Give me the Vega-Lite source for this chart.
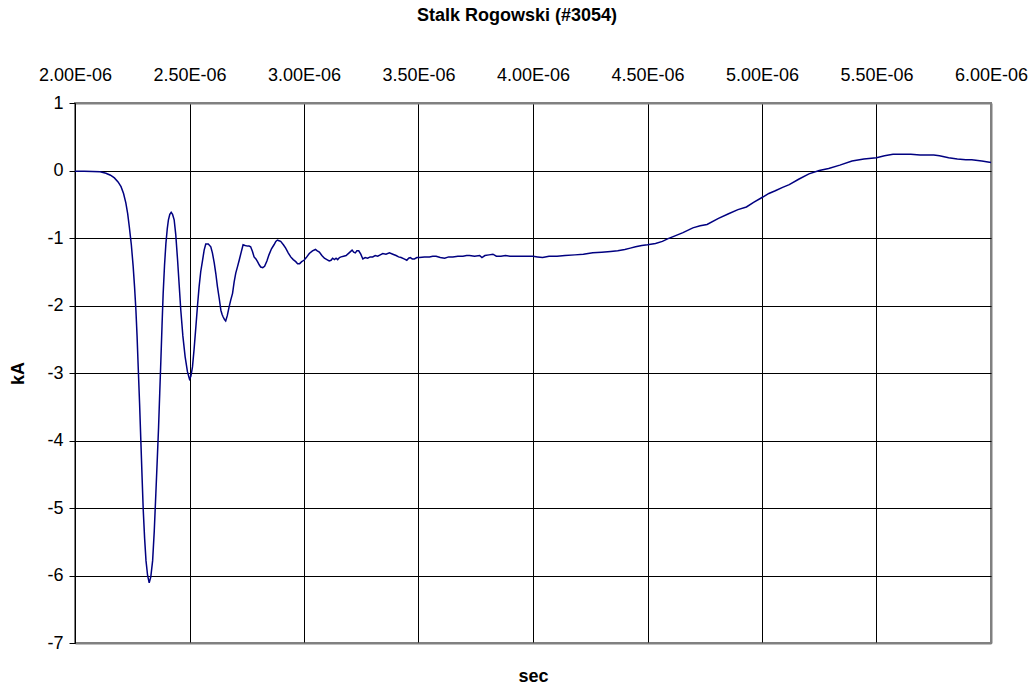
{
  "$schema": "https://vega.github.io/schema/vega-lite/v6.json",
  "width": 916,
  "height": 540,
  "autosize": "none",
  "padding": {"left": 75, "top": 103, "right": 42, "bottom": 42},
  "background": "white",
  "config": {
    "font": "Liberation Sans",
    "view": {"stroke": "#808080", "strokeWidth": 2}
  },
  "title": {
    "text": "Stalk Rogowski (#3054)",
    "fontSize": 18,
    "fontWeight": "bold",
    "color": "black",
    "anchor": "middle",
    "dx": -16,
    "offset": 41
  },
  "data": {
    "values": [
      {"t": 2.000e-6, "kA": -0.01}, {"t": 2.040e-6, "kA": -0.01}, {"t": 2.077e-6, "kA": -0.015}, {"t": 2.110e-6, "kA": -0.02},
      {"t": 2.135e-6, "kA": -0.04}, {"t": 2.155e-6, "kA": -0.07}, {"t": 2.172e-6, "kA": -0.11}, {"t": 2.188e-6, "kA": -0.17},
      {"t": 2.201e-6, "kA": -0.24}, {"t": 2.212e-6, "kA": -0.34}, {"t": 2.222e-6, "kA": -0.48}, {"t": 2.230e-6, "kA": -0.64},
      {"t": 2.237e-6, "kA": -0.83}, {"t": 2.246e-6, "kA": -1.10}, {"t": 2.254e-6, "kA": -1.42}, {"t": 2.260e-6, "kA": -1.72},
      {"t": 2.266e-6, "kA": -2.07}, {"t": 2.271e-6, "kA": -2.45}, {"t": 2.276e-6, "kA": -2.91}, {"t": 2.282e-6, "kA": -3.45},
      {"t": 2.288e-6, "kA": -4.05}, {"t": 2.293e-6, "kA": -4.55}, {"t": 2.298e-6, "kA": -5.03}, {"t": 2.304e-6, "kA": -5.45},
      {"t": 2.310e-6, "kA": -5.78}, {"t": 2.317e-6, "kA": -6.00}, {"t": 2.324e-6, "kA": -6.11}, {"t": 2.331e-6, "kA": -6.02},
      {"t": 2.339e-6, "kA": -5.78}, {"t": 2.346e-6, "kA": -5.35}, {"t": 2.353e-6, "kA": -4.79}, {"t": 2.359e-6, "kA": -4.30},
      {"t": 2.365e-6, "kA": -3.80}, {"t": 2.370e-6, "kA": -3.30}, {"t": 2.375e-6, "kA": -2.81}, {"t": 2.380e-6, "kA": -2.30},
      {"t": 2.385e-6, "kA": -1.82}, {"t": 2.391e-6, "kA": -1.40}, {"t": 2.397e-6, "kA": -1.08}, {"t": 2.403e-6, "kA": -0.86},
      {"t": 2.408e-6, "kA": -0.73}, {"t": 2.414e-6, "kA": -0.65}, {"t": 2.420e-6, "kA": -0.62}, {"t": 2.426e-6, "kA": -0.65},
      {"t": 2.433e-6, "kA": -0.73}, {"t": 2.440e-6, "kA": -0.95}, {"t": 2.448e-6, "kA": -1.33}, {"t": 2.455e-6, "kA": -1.70},
      {"t": 2.462e-6, "kA": -2.07}, {"t": 2.471e-6, "kA": -2.45}, {"t": 2.481e-6, "kA": -2.76}, {"t": 2.491e-6, "kA": -2.98},
      {"t": 2.500e-6, "kA": -3.09}, {"t": 2.506e-6, "kA": -3.05}, {"t": 2.513e-6, "kA": -2.91}, {"t": 2.520e-6, "kA": -2.65},
      {"t": 2.528e-6, "kA": -2.31}, {"t": 2.535e-6, "kA": -2.00}, {"t": 2.542e-6, "kA": -1.72}, {"t": 2.549e-6, "kA": -1.50},
      {"t": 2.557e-6, "kA": -1.33}, {"t": 2.564e-6, "kA": -1.18}, {"t": 2.571e-6, "kA": -1.09}, {"t": 2.582e-6, "kA": -1.09},
      {"t": 2.593e-6, "kA": -1.13}, {"t": 2.600e-6, "kA": -1.22}, {"t": 2.608e-6, "kA": -1.37}, {"t": 2.615e-6, "kA": -1.53},
      {"t": 2.622e-6, "kA": -1.72}, {"t": 2.630e-6, "kA": -1.90}, {"t": 2.637e-6, "kA": -2.07}, {"t": 2.642e-6, "kA": -2.13},
      {"t": 2.647e-6, "kA": -2.17}, {"t": 2.653e-6, "kA": -2.21}, {"t": 2.658e-6, "kA": -2.23}, {"t": 2.665e-6, "kA": -2.15},
      {"t": 2.673e-6, "kA": -2.02}, {"t": 2.680e-6, "kA": -1.92}, {"t": 2.688e-6, "kA": -1.82}, {"t": 2.695e-6, "kA": -1.65},
      {"t": 2.702e-6, "kA": -1.52}, {"t": 2.710e-6, "kA": -1.42}, {"t": 2.717e-6, "kA": -1.33}, {"t": 2.725e-6, "kA": -1.22},
      {"t": 2.734e-6, "kA": -1.10}, {"t": 2.743e-6, "kA": -1.11}, {"t": 2.753e-6, "kA": -1.12}, {"t": 2.760e-6, "kA": -1.12},
      {"t": 2.767e-6, "kA": -1.13}, {"t": 2.775e-6, "kA": -1.20}, {"t": 2.782e-6, "kA": -1.28}, {"t": 2.790e-6, "kA": -1.31},
      {"t": 2.797e-6, "kA": -1.35}, {"t": 2.805e-6, "kA": -1.40}, {"t": 2.811e-6, "kA": -1.43}, {"t": 2.820e-6, "kA": -1.44},
      {"t": 2.828e-6, "kA": -1.42}, {"t": 2.838e-6, "kA": -1.34}, {"t": 2.847e-6, "kA": -1.25}, {"t": 2.858e-6, "kA": -1.16},
      {"t": 2.869e-6, "kA": -1.10}, {"t": 2.877e-6, "kA": -1.05}, {"t": 2.884e-6, "kA": -1.03}, {"t": 2.891e-6, "kA": -1.04},
      {"t": 2.898e-6, "kA": -1.05}, {"t": 2.910e-6, "kA": -1.10}, {"t": 2.920e-6, "kA": -1.15}, {"t": 2.931e-6, "kA": -1.22},
      {"t": 2.942e-6, "kA": -1.28}, {"t": 2.953e-6, "kA": -1.32}, {"t": 2.964e-6, "kA": -1.35}, {"t": 2.972e-6, "kA": -1.38},
      {"t": 2.981e-6, "kA": -1.38}, {"t": 2.990e-6, "kA": -1.35}, {"t": 3.000e-6, "kA": -1.33}, {"t": 3.010e-6, "kA": -1.29},
      {"t": 3.023e-6, "kA": -1.23}, {"t": 3.037e-6, "kA": -1.19}, {"t": 3.050e-6, "kA": -1.17}, {"t": 3.058e-6, "kA": -1.19},
      {"t": 3.067e-6, "kA": -1.21}, {"t": 3.078e-6, "kA": -1.26}, {"t": 3.089e-6, "kA": -1.30}, {"t": 3.100e-6, "kA": -1.32},
      {"t": 3.110e-6, "kA": -1.34}, {"t": 3.118e-6, "kA": -1.33}, {"t": 3.125e-6, "kA": -1.30}, {"t": 3.133e-6, "kA": -1.32},
      {"t": 3.140e-6, "kA": -1.30}, {"t": 3.147e-6, "kA": -1.32}, {"t": 3.155e-6, "kA": -1.29}, {"t": 3.162e-6, "kA": -1.28},
      {"t": 3.173e-6, "kA": -1.27}, {"t": 3.184e-6, "kA": -1.26}, {"t": 3.197e-6, "kA": -1.22}, {"t": 3.210e-6, "kA": -1.18},
      {"t": 3.217e-6, "kA": -1.21}, {"t": 3.224e-6, "kA": -1.22}, {"t": 3.231e-6, "kA": -1.19}, {"t": 3.239e-6, "kA": -1.19},
      {"t": 3.248e-6, "kA": -1.24}, {"t": 3.257e-6, "kA": -1.31}, {"t": 3.267e-6, "kA": -1.29}, {"t": 3.278e-6, "kA": -1.30},
      {"t": 3.289e-6, "kA": -1.28}, {"t": 3.300e-6, "kA": -1.28}, {"t": 3.311e-6, "kA": -1.26}, {"t": 3.322e-6, "kA": -1.27},
      {"t": 3.333e-6, "kA": -1.25}, {"t": 3.344e-6, "kA": -1.23}, {"t": 3.358e-6, "kA": -1.24}, {"t": 3.373e-6, "kA": -1.22},
      {"t": 3.388e-6, "kA": -1.24}, {"t": 3.402e-6, "kA": -1.26}, {"t": 3.413e-6, "kA": -1.28}, {"t": 3.424e-6, "kA": -1.29},
      {"t": 3.437e-6, "kA": -1.31}, {"t": 3.449e-6, "kA": -1.33}, {"t": 3.457e-6, "kA": -1.30}, {"t": 3.464e-6, "kA": -1.29},
      {"t": 3.473e-6, "kA": -1.31}, {"t": 3.482e-6, "kA": -1.31}, {"t": 3.493e-6, "kA": -1.29}, {"t": 3.504e-6, "kA": -1.29},
      {"t": 3.526e-6, "kA": -1.28}, {"t": 3.548e-6, "kA": -1.28}, {"t": 3.562e-6, "kA": -1.27}, {"t": 3.577e-6, "kA": -1.27},
      {"t": 3.595e-6, "kA": -1.29}, {"t": 3.614e-6, "kA": -1.30}, {"t": 3.632e-6, "kA": -1.28}, {"t": 3.650e-6, "kA": -1.28},
      {"t": 3.672e-6, "kA": -1.27}, {"t": 3.694e-6, "kA": -1.27}, {"t": 3.710e-6, "kA": -1.26}, {"t": 3.723e-6, "kA": -1.26},
      {"t": 3.745e-6, "kA": -1.27}, {"t": 3.767e-6, "kA": -1.26}, {"t": 3.777e-6, "kA": -1.29}, {"t": 3.790e-6, "kA": -1.26},
      {"t": 3.808e-6, "kA": -1.25}, {"t": 3.825e-6, "kA": -1.24}, {"t": 3.840e-6, "kA": -1.27}, {"t": 3.860e-6, "kA": -1.27},
      {"t": 3.880e-6, "kA": -1.26}, {"t": 3.900e-6, "kA": -1.27}, {"t": 3.925e-6, "kA": -1.27}, {"t": 3.948e-6, "kA": -1.27},
      {"t": 3.975e-6, "kA": -1.27}, {"t": 4.000e-6, "kA": -1.27}, {"t": 4.020e-6, "kA": -1.28}, {"t": 4.042e-6, "kA": -1.29},
      {"t": 4.070e-6, "kA": -1.27}, {"t": 4.105e-6, "kA": -1.27}, {"t": 4.140e-6, "kA": -1.26}, {"t": 4.183e-6, "kA": -1.25},
      {"t": 4.220e-6, "kA": -1.24}, {"t": 4.261e-6, "kA": -1.22}, {"t": 4.300e-6, "kA": -1.21}, {"t": 4.339e-6, "kA": -1.20},
      {"t": 4.370e-6, "kA": -1.19}, {"t": 4.401e-6, "kA": -1.17}, {"t": 4.425e-6, "kA": -1.15}, {"t": 4.448e-6, "kA": -1.13},
      {"t": 4.475e-6, "kA": -1.11}, {"t": 4.500e-6, "kA": -1.10}, {"t": 4.535e-6, "kA": -1.08}, {"t": 4.565e-6, "kA": -1.05},
      {"t": 4.590e-6, "kA": -1.01}, {"t": 4.612e-6, "kA": -0.98}, {"t": 4.655e-6, "kA": -0.92}, {"t": 4.698e-6, "kA": -0.85},
      {"t": 4.730e-6, "kA": -0.82}, {"t": 4.760e-6, "kA": -0.80}, {"t": 4.810e-6, "kA": -0.71}, {"t": 4.854e-6, "kA": -0.64},
      {"t": 4.895e-6, "kA": -0.58}, {"t": 4.932e-6, "kA": -0.54}, {"t": 4.965e-6, "kA": -0.47}, {"t": 5.000e-6, "kA": -0.40},
      {"t": 5.030e-6, "kA": -0.34}, {"t": 5.058e-6, "kA": -0.30}, {"t": 5.090e-6, "kA": -0.25}, {"t": 5.119e-6, "kA": -0.21},
      {"t": 5.160e-6, "kA": -0.13}, {"t": 5.205e-6, "kA": -0.05}, {"t": 5.250e-6, "kA": 0.00}, {"t": 5.291e-6, "kA": 0.03},
      {"t": 5.340e-6, "kA": 0.08}, {"t": 5.393e-6, "kA": 0.14}, {"t": 5.445e-6, "kA": 0.17}, {"t": 5.500e-6, "kA": 0.19},
      {"t": 5.535e-6, "kA": 0.22}, {"t": 5.572e-6, "kA": 0.24}, {"t": 5.610e-6, "kA": 0.24}, {"t": 5.650e-6, "kA": 0.24},
      {"t": 5.690e-6, "kA": 0.23}, {"t": 5.728e-6, "kA": 0.23}, {"t": 5.750e-6, "kA": 0.23}, {"t": 5.775e-6, "kA": 0.22},
      {"t": 5.815e-6, "kA": 0.19}, {"t": 5.853e-6, "kA": 0.17}, {"t": 5.890e-6, "kA": 0.16}, {"t": 5.916e-6, "kA": 0.16},
      {"t": 5.960e-6, "kA": 0.14}, {"t": 6.000e-6, "kA": 0.12}
    ]
  },
  "layer": [
    {
      "mark": {"type": "line", "color": "#000080", "strokeWidth": 1.5},
      "encoding": {
        "x": {
          "field": "t",
          "type": "quantitative",
          "scale": {"domain": [2e-6, 6e-6], "nice": false, "zero": false},
          "axis": {
            "orient": "top",
            "title": null,
            "values": [2e-6, 2.5e-6, 3e-6, 3.5e-6, 4e-6, 4.5e-6, 5e-6, 5.5e-6, 6e-6],
            "labelExpr": "format(datum.value * 1e6, '.2f') + 'E-06'",
            "labelFontSize": 18,
            "labelColor": "black",
            "labelPadding": 19,
            "labelFlush": false,
            "labelOverlap": false,
            "ticks": false,
            "domain": false,
            "grid": true,
            "gridColor": {"condition": {"test": "datum.value > 5.99e-6", "value": "#808080"}, "value": "black"},
            "gridWidth": {"condition": {"test": "datum.value > 5.99e-6", "value": 2}, "value": 1},
            "gridOpacity": 1
          }
        },
        "y": {
          "field": "kA",
          "type": "quantitative",
          "scale": {"domain": [-7, 1], "nice": false, "zero": false},
          "axis": {
            "title": "kA",
            "titleFontSize": 18,
            "titleFontWeight": "bold",
            "titleColor": "black",
            "titlePadding": 19,
            "values": [-7, -6, -5, -4, -3, -2, -1, 0, 1],
            "labelExpr": "'' + datum.value",
            "labelFontSize": 18,
            "labelColor": "black",
            "labelPadding": 6,
            "labelFlush": false,
            "tickSize": 6,
            "tickColor": "black",
            "domainColor": "black",
            "grid": true,
            "gridColor": {"condition": {"test": "datum.value === 1 || datum.value === -7", "value": "#808080"}, "value": "black"},
            "gridWidth": {"condition": {"test": "datum.value === 1 || datum.value === -7", "value": 2}, "value": 1},
            "gridOpacity": 1
          }
        }
      }
    },
    {
      "mark": {"type": "point", "opacity": 0},
      "encoding": {
        "x": {
          "field": "t",
          "type": "quantitative",
          "axis": {
            "orient": "bottom",
            "title": "sec",
            "titleFontSize": 18,
            "titleFontWeight": "bold",
            "titleColor": "black",
            "titlePadding": 24,
            "labels": false,
            "ticks": false,
            "domain": false,
            "grid": false
          }
        },
        "y": {"field": "kA", "type": "quantitative"}
      }
    }
  ],
  "resolve": {"axis": {"x": "independent"}}
}
